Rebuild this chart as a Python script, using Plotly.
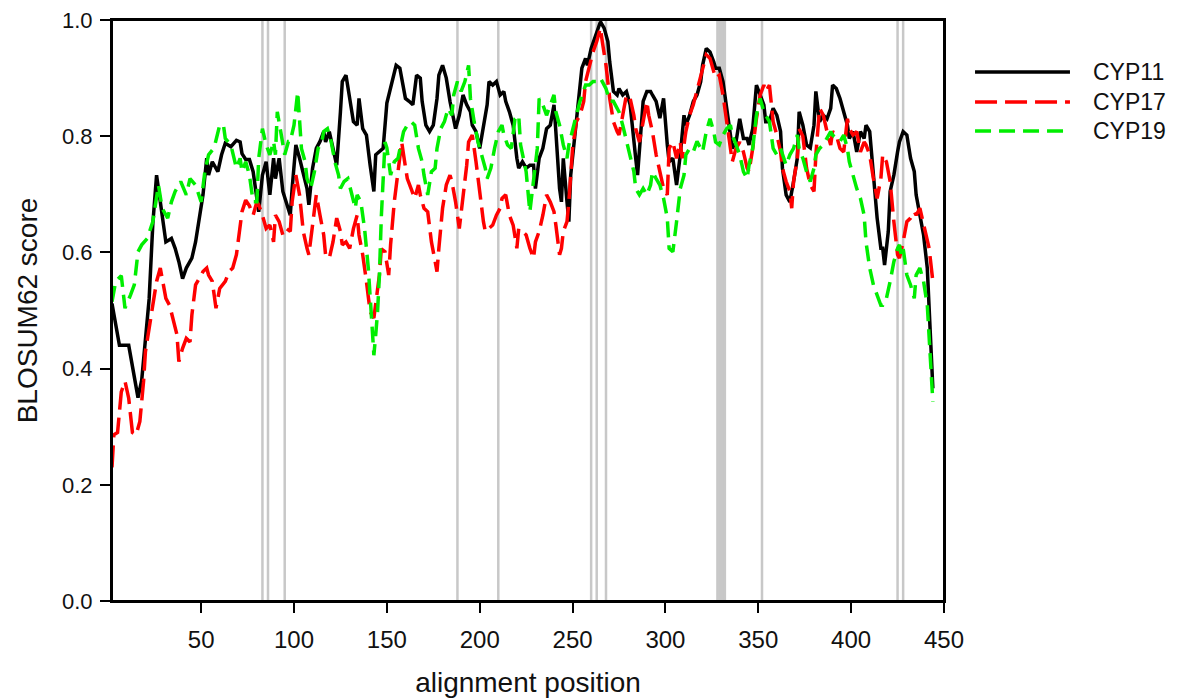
import plotly.graph_objects as go

# ---- data (alignment position, BLOSUM62 score) ----
cyp11_points = [
    (2,0.512),(6,0.44),(11,0.44),(16,0.35),(18,0.38),(22,0.52),(24,0.65),(26,0.733),(28,0.687),(31,0.618),
    (34,0.624),(36,0.607),(38,0.584),(40,0.555),(42,0.573),(45,0.59),(47,0.618),(49,0.659),(51,0.699),(53,0.762),
    (54,0.733),(56,0.756),(59,0.739),(61,0.768),(63,0.788),(66,0.782),(69,0.793),(71,0.79),(72,0.77),(74,0.76),
    (76,0.76),(78,0.739),(80,0.699),(81,0.67),(83,0.733),(85,0.756),(87,0.699),(89,0.762),(90,0.727),(92,0.762),
    (94,0.705),(96,0.682),(98,0.664),(99,0.71),(101,0.785),(103,0.762),(105,0.733),(107,0.71),(108,0.682),(110,0.745),
    (112,0.779),(114,0.791),(116,0.808),(117,0.79),(119,0.808),(121,0.779),(123,0.75),(125,0.842),(126,0.894),(128,0.905),
    (130,0.86),(132,0.825),(134,0.819),(135,0.865),(137,0.813),(139,0.802),(141,0.75),(143,0.705),(144,0.768),(146,0.773),
    (148,0.779),(150,0.857),(151,0.87),(153,0.894),(155,0.922),(157,0.917),(159,0.882),(160,0.865),(162,0.86),(164,0.854),
    (166,0.905),(168,0.9),(169,0.86),(171,0.819),(173,0.808),(175,0.819),(177,0.865),(178,0.905),(180,0.922),(182,0.9),
    (184,0.86),(186,0.825),(187,0.813),(189,0.836),(191,0.871),(193,0.854),(195,0.842),(196,0.819),(198,0.808),(200,0.779),
    (202,0.819),(204,0.854),(205,0.894),(207,0.888),(209,0.894),(211,0.871),(213,0.877),(214,0.86),(216,0.842),(218,0.819),
    (220,0.762),(221,0.745),(223,0.756),(225,0.745),(227,0.75),(229,0.75),(230,0.71),(232,0.762),(234,0.779),(236,0.813),
    (238,0.819),(240,0.854),(241,0.808),(243,0.71),(244,0.687),(245,0.762),(247,0.687),(248,0.653),(249,0.733),(251,0.79),
    (253,0.86),(255,0.917),(257,0.934),(258,0.922),(260,0.951),(262,0.968),(264,0.986),(265,0.997),(267,0.986),(269,0.963),
    (270,0.928),(272,0.877),(274,0.871),(275,0.882),(277,0.871),(279,0.877),(281,0.854),(283,0.785),(284,0.762),(285,0.733),
    (286,0.779),(288,0.86),(290,0.877),(292,0.877),(293,0.871),(295,0.86),(297,0.831),(299,0.865),(301,0.785),(302,0.756),
    (304,0.762),(306,0.716),(308,0.768),(310,0.836),(311,0.819),(313,0.836),(315,0.86),(317,0.871),(319,0.894),(320,0.922),
    (322,0.951),(324,0.945),(326,0.928),(327,0.917),(329,0.917),(331,0.894),(333,0.848),(335,0.796),(336,0.779),(338,0.79),
    (340,0.83),(342,0.796),(344,0.796),(345,0.785),(347,0.813),(349,0.888),(351,0.871),(353,0.854),(354,0.825),(356,0.825),
    (358,0.848),(360,0.836),(362,0.808),(363,0.745),(365,0.699),(367,0.687),(369,0.722),(371,0.762),(372,0.842),(374,0.819),
    (376,0.785),(378,0.78),(380,0.819),(381,0.877),(383,0.825),(385,0.836),(387,0.83),(389,0.848),(390,0.888),(392,0.882),
    (394,0.865),(396,0.842),(398,0.819),(399,0.796),(401,0.808),(403,0.773),(405,0.808),(407,0.796),(408,0.819),(410,0.808),
    (412,0.739),(414,0.659),(416,0.607),(417,0.607),(418,0.578),(420,0.636),(421,0.705),(423,0.733),(425,0.773),(426,0.79),
    (428,0.808),(430,0.802),(432,0.762),(434,0.739),(435,0.699),(437,0.664),(439,0.63),(441,0.573),(442,0.50),(443,0.43),
    (444,0.366),
]

cyp17_points = [
    (2,0.23),(3,0.286),(5,0.29),(7,0.36),(9,0.378),(11,0.349),(13,0.29),(15,0.286),(17,0.309),(19,0.378),
    (20,0.429),(23,0.487),(26,0.55),(28,0.573),(29,0.555),(31,0.521),(33,0.509),(35,0.481),(37,0.458),(38,0.412),
    (40,0.435),(42,0.452),(44,0.446),(45,0.492),(47,0.544),(49,0.555),(51,0.567),(53,0.573),(54,0.561),(56,0.55),
    (58,0.504),(60,0.538),(63,0.55),(65,0.567),(67,0.573),(69,0.596),(71,0.64),(72,0.67),(74,0.69),(76,0.68),
    (78,0.664),(80,0.687),(81,0.682),(83,0.664),(85,0.641),(87,0.647),(89,0.618),(90,0.664),(92,0.653),(94,0.63),
    (96,0.641),(98,0.636),(99,0.687),(101,0.733),(103,0.699),(105,0.636),(107,0.607),(108,0.596),(110,0.647),(112,0.699),
    (114,0.664),(116,0.63),(117,0.596),(119,0.59),(121,0.618),(123,0.659),(125,0.636),(126,0.613),(128,0.618),(130,0.607),
    (132,0.641),(134,0.664),(135,0.63),(137,0.596),(139,0.55),(141,0.498),(143,0.487),(144,0.515),(146,0.561),(147,0.606),
    (149,0.601),(151,0.561),(152,0.613),(154,0.687),(156,0.745),(158,0.79),(159,0.768),(161,0.727),(163,0.71),(165,0.693),
    (167,0.716),(168,0.699),(170,0.676),(172,0.67),(174,0.618),(176,0.584),(177,0.567),(178,0.607),(180,0.676),(182,0.716),
    (184,0.733),(185,0.722),(187,0.687),(189,0.641),(191,0.693),(193,0.75),(194,0.79),(196,0.802),(198,0.756),(200,0.699),
    (202,0.653),(203,0.636),(205,0.641),(207,0.647),(209,0.664),(211,0.676),(212,0.693),(214,0.699),(216,0.664),(218,0.647),
    (220,0.607),(221,0.641),(223,0.636),(225,0.63),(227,0.607),(229,0.59),(230,0.618),(232,0.636),(234,0.664),(236,0.699),
    (238,0.687),(240,0.67),(241,0.647),(243,0.596),(244,0.607),(245,0.636),(247,0.653),(248,0.687),(250,0.779),(252,0.825),
    (254,0.836),(256,0.86),(257,0.894),(259,0.922),(261,0.945),(263,0.963),(265,0.986),(266,0.963),(268,0.922),(270,0.865),
    (272,0.825),(274,0.808),(275,0.802),(277,0.836),(279,0.871),(281,0.865),(283,0.836),(284,0.813),(286,0.79),(288,0.825),
    (290,0.86),(291,0.836),(293,0.808),(295,0.768),(297,0.739),(299,0.71),(301,0.699),(302,0.779),(304,0.79),(306,0.762),
    (308,0.79),(309,0.762),(311,0.808),(313,0.836),(315,0.854),(317,0.877),(319,0.9),(320,0.917),(322,0.94),(324,0.934),
    (326,0.911),(327,0.9),(329,0.905),(331,0.871),(333,0.825),(335,0.785),(336,0.756),(338,0.779),(340,0.79),(342,0.773),
    (344,0.745),(345,0.739),(347,0.779),(349,0.83),(351,0.871),(353,0.888),(354,0.877),(356,0.888),(358,0.825),(360,0.802),
    (362,0.773),(363,0.745),(365,0.722),(367,0.705),(368,0.676),(369,0.722),(371,0.762),(372,0.813),(374,0.80),(376,0.745),
    (378,0.716),(380,0.705),(381,0.768),(383,0.848),(385,0.836),(387,0.808),(389,0.785),(390,0.808),(392,0.802),(394,0.779),
    (396,0.773),(398,0.83),(399,0.813),(401,0.802),(403,0.808),(405,0.773),(407,0.79),(408,0.785),(410,0.768),(412,0.727),
    (414,0.693),(416,0.727),(417,0.768),(419,0.756),(421,0.722),(423,0.653),(425,0.596),(426,0.59),(428,0.618),(430,0.653),
    (432,0.659),(434,0.67),(435,0.664),(437,0.676),(439,0.647),(441,0.618),(442,0.607),(444,0.55),
]

cyp19_points = [
    (2,0.515),(4,0.55),(7,0.56),(9,0.504),(12,0.527),(14,0.544),(16,0.601),(18,0.613),(21,0.624),(24,0.653),
    (27,0.716),(29,0.676),(32,0.659),(34,0.687),(36,0.705),(39,0.722),(42,0.699),(44,0.727),(47,0.716),(50,0.687),
    (52,0.739),(54,0.768),(57,0.78),(60,0.819),(62,0.819),(63,0.796),(66,0.785),(69,0.745),(71,0.762),(72,0.739),
    (74,0.756),(76,0.733),(78,0.687),(80,0.687),(81,0.762),(83,0.813),(85,0.785),(87,0.768),(89,0.791),(90,0.768),
    (91,0.842),(93,0.808),(95,0.768),(97,0.791),(98,0.791),(100,0.819),(102,0.876),(104,0.779),(106,0.756),(107,0.727),
    (109,0.71),(111,0.739),(113,0.779),(115,0.791),(116,0.808),(118,0.813),(120,0.791),(122,0.756),(124,0.733),(125,0.71),
    (127,0.722),(129,0.727),(131,0.699),(133,0.676),(134,0.699),(136,0.687),(138,0.641),(140,0.573),(142,0.475),(143,0.423),
    (144,0.458),(145,0.498),(146,0.561),(147,0.66),(149,0.79),(150,0.78),(152,0.733),(154,0.756),(156,0.762),(158,0.79),
    (159,0.808),(161,0.819),(163,0.825),(165,0.819),(167,0.779),(169,0.756),(170,0.733),(172,0.699),(174,0.739),(176,0.745),
    (177,0.779),(179,0.813),(181,0.825),(183,0.848),(185,0.836),(186,0.871),(188,0.894),(190,0.877),(192,0.894),(194,0.922),
    (195,0.865),(197,0.825),(199,0.791),(201,0.768),(203,0.745),(204,0.727),(206,0.745),(208,0.779),(210,0.808),(212,0.819),
    (213,0.802),(215,0.785),(217,0.779),(219,0.83),(221,0.836),(222,0.785),(223,0.768),(225,0.739),(227,0.67),(229,0.722),
    (231,0.779),(232,0.865),(234,0.854),(236,0.836),(238,0.854),(240,0.871),(241,0.842),(243,0.819),(245,0.785),(247,0.762),
    (248,0.785),(250,0.808),(252,0.836),(254,0.86),(256,0.877),(257,0.888),(259,0.888),(261,0.894),(263,0.894),(265,0.9),
    (266,0.894),(268,0.882),(270,0.86),(272,0.86),(274,0.848),(275,0.842),(277,0.819),(279,0.79),(281,0.768),(283,0.739),
    (284,0.71),(286,0.699),(288,0.71),(290,0.699),(292,0.716),(293,0.739),(295,0.727),(297,0.716),(299,0.693),(301,0.659),
    (302,0.607),(304,0.601),(306,0.653),(308,0.71),(310,0.733),(311,0.768),(313,0.779),(315,0.773),(317,0.791),(319,0.779),
    (320,0.773),(322,0.808),(324,0.83),(326,0.808),(327,0.79),(329,0.785),(331,0.802),(333,0.813),(335,0.819),(336,0.802),
    (338,0.785),(340,0.768),(342,0.739),(344,0.727),(345,0.75),(347,0.779),(349,0.836),(351,0.865),(353,0.842),(354,0.836),
    (356,0.825),(358,0.779),(360,0.768),(362,0.779),(363,0.768),(365,0.75),(367,0.768),(369,0.779),(371,0.802),(372,0.779),
    (374,0.762),(376,0.739),(378,0.722),(380,0.745),(381,0.768),(383,0.779),(385,0.785),(387,0.796),(389,0.808),(390,0.802),
    (392,0.796),(394,0.791),(396,0.802),(398,0.779),(399,0.756),(401,0.733),(403,0.71),(405,0.693),(407,0.664),(408,0.618),
    (410,0.573),(412,0.544),(414,0.527),(416,0.509),(417,0.509),(419,0.521),(421,0.55),(423,0.584),(425,0.607),(426,0.613),
    (427,0.596),(428,0.607),(430,0.561),(432,0.544),(434,0.521),(435,0.561),(437,0.573),(439,0.55),(441,0.509),(442,0.446),
    (444,0.343),
]

# positions of the grey vertical marker lines
marker_positions = [83, 86, 95, 188, 210, 260, 263, 268, 328, 329, 330, 331, 332, 352, 425, 428]

series_names = ["CYP11", "CYP17", "CYP19"]
series_colors = ["#000000", "#ff0000", "#00ee00"]
series_dash = ["solid", "22px,8px", "16px,8px"]

x_ticks = [50, 100, 150, 200, 250, 300, 350, 400, 450]
y_ticks = [0.0, 0.2, 0.4, 0.6, 0.8, 1.0]

FONT = "Liberation Sans, Arial, sans-serif"

fig = go.Figure()

for name, pts, col, dash in zip(series_names, [cyp11_points, cyp17_points, cyp19_points],
                                series_colors, series_dash):
    xs = [p[0] for p in pts]
    ys = [p[1] for p in pts]
    fig.add_trace(go.Scatter(x=xs, y=ys, mode="lines", name=name,
                             line=dict(color=col, width=3.5, dash=dash),
                             showlegend=False))

shapes = []
for pos in marker_positions:
    shapes.append(dict(type="line", xref="x", yref="paper", x0=pos, x1=pos, y0=0, y1=1,
                       line=dict(color="#c8c8c8", width=2.5), layer="below"))

# frame around the plotting area
shapes.append(dict(type="rect", xref="paper", yref="paper", x0=0, x1=1, y0=0, y1=1,
                   line=dict(color="#000000", width=2), fillcolor="rgba(0,0,0,0)", layer="above"))

# manual legend (long line samples like the original)
legend_y = [0.9105, 0.8589, 0.809]
annotations = []
for name, col, dash, ly in zip(series_names, series_colors, series_dash, legend_y):
    shapes.append(dict(type="line", xref="paper", yref="paper", x0=1.0373, x1=1.1514, y0=ly, y1=ly,
                       line=dict(color=col, width=3.5, dash=dash)))
    annotations.append(dict(xref="paper", yref="paper", x=1.1767, y=ly, text=name, showarrow=False,
                            xanchor="left", yanchor="middle",
                            font=dict(family=FONT, size=23, color="#111111")))

# the page body adds an 8px offset, so the figure is 8px smaller and margins are shifted
fig.update_layout(
    width=1173, height=690,
    margin=dict(l=104, r=237, t=12, b=97),
    paper_bgcolor="white", plot_bgcolor="white",
    font=dict(family=FONT, size=23, color="#111111"),
    shapes=shapes, annotations=annotations,
    showlegend=False,
)

fig.update_xaxes(
    range=[2, 450], tickvals=x_ticks, ticktext=[str(v) for v in x_ticks],
    ticks="outside", ticklen=10, tickwidth=2, tickcolor="#000",
    showline=True, linewidth=2, linecolor="#000", mirror=True,
    showgrid=False, zeroline=False, ticklabelstandoff=6, ticklabeloverflow="allow",
    tickfont=dict(family=FONT, size=24, color="#111111"),
    title=dict(text="alignment position", font=dict(family=FONT, size=28, color="#111111"), standoff=30),
    automargin=False,
)
fig.update_yaxes(
    range=[0, 1], tickvals=y_ticks, ticktext=[f"{v:.1f}" for v in y_ticks],
    ticks="outside", ticklen=10, tickwidth=2, tickcolor="#000",
    showline=True, linewidth=2, linecolor="#000", mirror=True,
    showgrid=False, zeroline=False, ticklabelstandoff=3, ticklabeloverflow="allow",
    tickfont=dict(family=FONT, size=22, color="#111111"),
    title=dict(text="BLOSUM62 score", font=dict(family=FONT, size=28, color="#111111"), standoff=16),
    automargin=False,
)

fig.write_html("out.html")
